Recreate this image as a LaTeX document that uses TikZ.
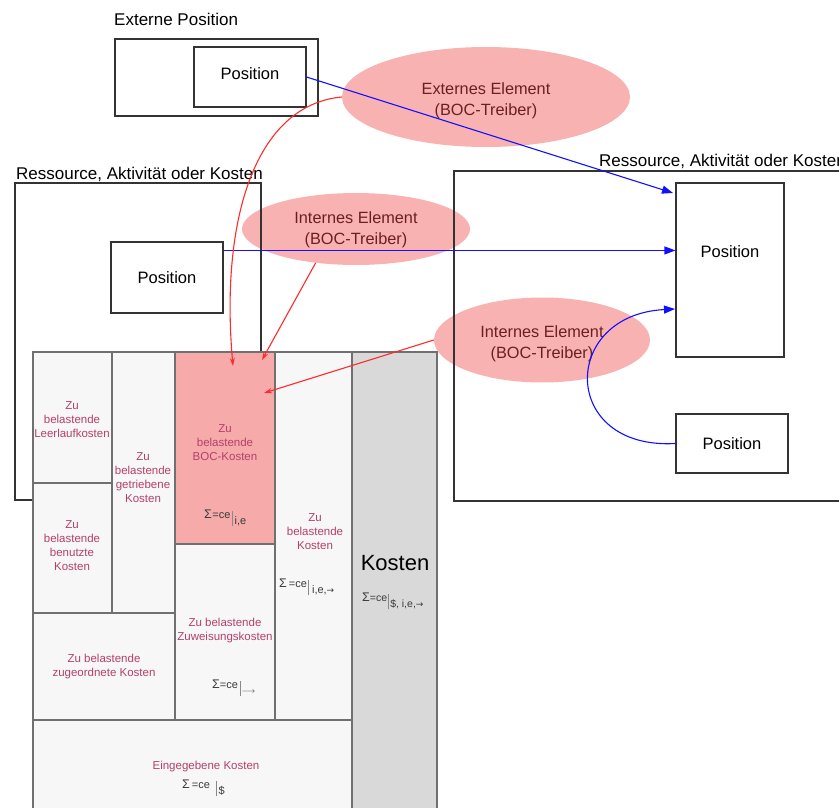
\documentclass[tikz,border=0pt]{standalone}
\usepackage{fontspec}
\setmainfont{Liberation Sans}
\newfontfamily\symfont{DejaVu Sans}
\usetikzlibrary{shapes.geometric,arrows.meta,calc}

\definecolor{drvfill}{HTML}{F9B2B2}
\definecolor{drvtext}{HTML}{6B2020}
\definecolor{cellfill}{HTML}{F7F7F7}
\definecolor{cellline}{HTML}{707070}
\definecolor{celltext}{HTML}{B4406A}
\definecolor{bocfill}{HTML}{F6AAAA}
\definecolor{totalfill}{HTML}{D9D9D9}
\definecolor{framecol}{HTML}{333333}
\definecolor{formulacol}{HTML}{3A3A3A}
\definecolor{linkblue}{HTML}{1010FF}
\definecolor{linkred}{HTML}{FF2A2A}

% sum of cost elements restricted to a set: "Sigma=ce | subscript"
\newcommand{\sumsym}{{\fontsize{12.5}{12}\selectfont Σ}}
\newcommand{\cebar}{{\color{formulacol!60}\rule[-8pt]{0.6pt}{15pt}}}
\newcommand{\sarr}{{\symfont\fontsize{9}{9}\selectfont →}}

\begin{document}
\begin{tikzpicture}[x=1pt,y=-1pt,
  framebox/.style={draw=framecol,line width=1.1pt,rectangle,inner sep=0pt},
  posbox/.style={framebox,fill=white,font=\fontsize{16.5}{19}\selectfont},
  caption/.style={anchor=base west,inner sep=0pt,font=\fontsize{17}{19}\selectfont},
  driver/.style={ellipse,fill=drvfill,inner sep=0pt},
  drvlabel/.style={text=drvtext,align=center,inner sep=0pt,
    font=\fontsize{16.3}{21}\selectfont},
  cell/.style={rectangle,draw=cellline,line width=1.3pt,fill=cellfill,inner sep=0pt},
  celltxt/.style={text=celltext,align=center,inner sep=0pt,
    font=\fontsize{11.5}{14}\selectfont},
  formula/.style={text=formulacol,anchor=west,inner sep=0pt,
    font=\fontsize{11}{12}\selectfont},
  bluelink/.style={draw=linkblue,line width=1.1pt,-{Triangle[length=11pt,width=8pt]}},
  redlink/.style={draw=linkred,line width=1.1pt,-{Stealth[length=8pt,width=5pt]}}
]
\useasboundingbox (0,0) rectangle (839,808);

% ---- driver ellipses (drawn first, frames stay visible on top)
\node[driver,minimum width=288pt,minimum height=100pt,
  label={[drvlabel,yshift=-4pt]center:Externes Element\\(BOC-Treiber)}] (extel) at (486,97) {};
\node[driver,minimum width=228pt,minimum height=72pt,
  label={[drvlabel,yshift=-1pt]center:Internes Element\\(BOC-Treiber)}] (intel1) at (356,229) {};
\node[driver,minimum width=216pt,minimum height=85pt,
  label={[drvlabel,yshift=-4pt]center:Internes Element\\(BOC-Treiber)}] (intel2) at (542,340) {};

% ---- external position
\node[caption] (extcap) at (114,26) {Externe Position};
\node[framebox,minimum width=203pt,minimum height=77pt] (extouter) at (216.5,77.5) {};
\node[posbox,minimum width=112pt,minimum height=60pt,
  label={[yshift=3pt,font=\fontsize{16.5}{19}\selectfont]center:Position}] (extpos) at (250,77) {};

% ---- left resource / activity / cost object
\node[caption] (leftcap) at (16,179) {Ressource, Aktivität oder Kosten};
\node[framebox,minimum width=246pt,minimum height=317pt] (leftouter) at (138,341.5) {};
\node[posbox,minimum width=112pt,minimum height=71pt] (leftpos) at (167,277.5) {Position};

% ---- right resource / activity / cost object
\node[caption] (rightcap) at (599,166) {Ressource, Aktivität oder Kosten};
\node[framebox,minimum width=396pt,minimum height=330pt] (rightouter) at (652,336) {};
\node[posbox,minimum width=108pt,minimum height=174pt,
  label={[yshift=18pt,font=\fontsize{16.5}{19}\selectfont]center:Position}] (rightpos) at (730,270) {};
\node[posbox,minimum width=112pt,minimum height=59pt] (botpos) at (732,443.5) {Position};

% ---- cost breakdown table
\node[cell,minimum width=79pt,minimum height=131pt] (leer) at (72.5,417.5) {};
\node[cell,minimum width=79pt,minimum height=130pt] (benutzt) at (72.5,548) {};
\node[cell,minimum width=63pt,minimum height=261pt] (getrieben) at (143.5,482.5) {};
\node[cell,minimum width=142pt,minimum height=107pt] (zugeordnet) at (104,666.5) {};
\node[cell,fill=bocfill,minimum width=100pt,minimum height=192pt] (boc) at (225,448) {};
\node[cell,minimum width=100pt,minimum height=176pt] (zuweis) at (225,632) {};
\node[cell,minimum width=77pt,minimum height=368pt] (kostencol) at (313.5,536) {};
\node[cell,minimum width=319pt,minimum height=94pt] (eingegeben) at (192.5,767) {};
\node[cell,fill=totalfill,minimum width=85pt,minimum height=462pt] (kosten) at (394.5,583) {};

\node[celltxt] (leertxt) at (72,420) {Zu\\belastende\\Leerlaufkosten};
\node[celltxt] (getrtxt) at (143,478) {Zu\\belastende\\getriebene\\Kosten};
\node[celltxt] (boctxt) at (225,443) {Zu\\belastende\\BOC-Kosten};
\node[formula] (bocsum) at (204,518) {\sumsym\kern0.5pt=ce\kern1.5pt\cebar\kern2pt\raisebox{-6pt}{i,e}};
\node[celltxt] (benutzttxt) at (72,546) {Zu\\belastende\\benutzte\\Kosten};
\node[celltxt] (kostencoltxt) at (315,532) {Zu\\belastende\\Kosten};
\node[formula] (kostencolsum) at (279,587) {\sumsym\kern2pt=ce\kern1.5pt\cebar\kern3pt\raisebox{-6pt}{i,e,\sarr}};
\node[celltxt] (zugeordnettxt) at (104,667) {Zu belastende\\zugeordnete Kosten};
\node[celltxt] (zuweistxt) at (225,631) {Zu belastende\\Zuweisungskosten};
\node[formula] (zuweissum) at (212,688) {\sumsym=ce\kern2pt\cebar\kern1pt\raisebox{-5pt}{$\scriptstyle\longrightarrow$}};
\node[celltxt] (eingtxt) at (206,767) {Eingegebene Kosten};
\node[formula] (eingsum) at (182,788) {\sumsym\kern2pt=ce\kern6pt\cebar\kern2pt\raisebox{-6pt}{\$}};
\node[inner sep=0pt,font=\fontsize{22}{24}\selectfont] (kostentxt) at (395,563) {Kosten};
\node[formula,font=\fontsize{10.5}{12}\selectfont] (kostensum) at (362,601)
  {\sumsym=ce\kern0.5pt\cebar\kern2pt\raisebox{-6pt}{\$, i,e,\sarr}};

% ---- connector end points inside the BOC cell
\coordinate (tipA) at (233,366);
\coordinate (tipB) at (262,360);
\coordinate (tipC) at (264,393);

% ---- blue position links
\draw[bluelink] (extpos.east) -- (673,193);
\coordinate (lpstart) at ($(leftpos.north east)+(0,9)$);
\draw[bluelink] (lpstart) -- (lpstart -| rightpos.west);
\draw[bluelink] (botpos.west) .. controls (560,450) and (560,315) .. (675,309);

% ---- red driver links
\draw[redlink] (extel.west) .. controls (255,105) and (220,220) .. (tipA);
\draw[redlink] (intel1.220) -- (tipB);
\draw[redlink] (intel2.west) -- (tipC);
\end{tikzpicture}
\end{document}
